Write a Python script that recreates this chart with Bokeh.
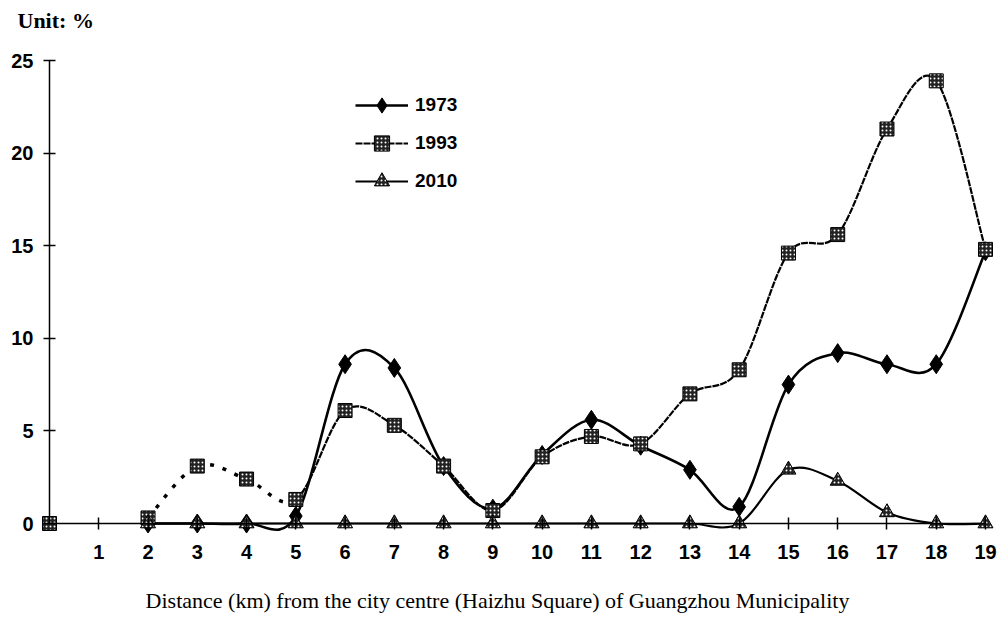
import numpy as np
from bokeh.plotting import figure
from bokeh.models import (Range1d, LinearAxis, FixedTicker, Legend, LegendItem,
                          Label, ColumnDataSource)
from bokeh.embed import file_html
from bokeh.resources import INLINE

# ---------------- data ----------------
distance = list(range(0, 20))
x_ticks = list(range(1, 20))
y_ticks = [0, 5, 10, 15, 20, 25]
share_1973 = [None, None, 0, 0, 0, 0.4, 8.6, 8.4, 3.1, 0.8, 3.7, 5.6, 4.2, 2.9, 0.9, 7.5, 9.2, 8.6, 8.6, 14.7]
share_1993 = [0, None, 0.3, 3.1, 2.4, 1.3, 6.1, 5.3, 3.1, 0.7, 3.6, 4.7, 4.3, 7.0, 8.3, 14.6, 15.6, 21.3, 23.9, 14.8]
share_2010 = [None, None, 0, 0, 0, 0, 0, 0, 0, 0, 0, 0, 0, 0, 0, 2.9, 2.3, 0.6, 0, 0]


def to_arr(v):
    return np.array([np.nan if a is None else a for a in v], dtype=float)


def smooth_segments(xs, ys, start):
    """Bezier control points (Catmull-Rom style) through the points from index `start`."""
    px = np.array(xs[start:], dtype=float)
    py = to_arr(ys[start:])
    n = len(px)
    seg = dict(x0=[], y0=[], x1=[], y1=[], cx0=[], cy0=[], cx1=[], cy1=[])
    for i in range(n - 1):
        im = max(i - 1, 0)
        ip = min(i + 2, n - 1)
        seg["x0"].append(px[i]); seg["y0"].append(py[i])
        seg["x1"].append(px[i + 1]); seg["y1"].append(py[i + 1])
        seg["cx0"].append(px[i] + (px[i + 1] - px[im]) / 6)
        seg["cy0"].append(py[i] + (py[i + 1] - py[im]) / 6)
        seg["cx1"].append(px[i + 1] - (px[ip] - px[i]) / 6)
        seg["cy1"].append(py[i + 1] - (py[ip] - py[i]) / 6)
    return seg


def subset(seg, a, b):
    return {k: v[a:b] for k, v in seg.items()}


# ---------------- layout (frame covers the whole canvas) ----------------
W, H = 997, 627
X0_PX, X19_PX = 49.0, 985.0      # pixel of x=0 and x=19
Y0_PX, Y25_PX = 523.0, 60.0      # pixel of y=0 and y=25
kx = (X19_PX - X0_PX) / 19.0
ky = (Y0_PX - Y25_PX) / 25.0
x_range = Range1d(-X0_PX / kx, 19 + (W - X19_PX) / kx)
y_range = Range1d(-(H - Y0_PX) / ky, 25 + Y25_PX / ky)

p = figure(width=W, height=H, output_backend="svg", toolbar_location=None,
           x_range=x_range, y_range=y_range,
           x_axis_type=None, y_axis_type=None,
           min_border=0, min_border_left=0, min_border_right=0,
           min_border_top=0, min_border_bottom=0)
p.outline_line_color = None
p.background_fill_color = "white"
p.border_fill_color = "white"

# axes placed at data zero
xaxis = LinearAxis(ticker=FixedTicker(ticks=x_ticks), fixed_location=0, bounds=(0, 19))
yaxis = LinearAxis(ticker=FixedTicker(ticks=y_ticks), fixed_location=0, bounds=(0, 25))
for ax in (xaxis, yaxis):
    ax.axis_line_color = "black"
    ax.axis_line_width = 1.5
    ax.major_tick_line_color = "black"
    ax.major_tick_line_width = 1.5
    ax.major_tick_in = 6
    ax.major_tick_out = 6
    ax.minor_tick_line_color = None
    ax.major_label_text_font = "Liberation Sans"
    ax.major_label_text_font_style = "bold"
    ax.major_label_text_font_size = "20px"
    ax.major_label_text_color = "black"
xaxis.major_label_standoff = 15
yaxis.major_label_standoff = 10
p.add_layout(xaxis, "below")
p.add_layout(yaxis, "left")

# smooth lines
seg73 = smooth_segments(distance, share_1973, 2)
seg93 = smooth_segments(distance, share_1993, 2)
seg10 = smooth_segments(distance, share_2010, 2)

b73 = p.bezier(source=ColumnDataSource(seg73), x0="x0", y0="y0", x1="x1", y1="y1",
               cx0="cx0", cy0="cy0", cx1="cx1", cy1="cy1", line_color="black", line_width=2.6)
b93a = p.bezier(source=ColumnDataSource(subset(seg93, 0, 3)), x0="x0", y0="y0", x1="x1", y1="y1",
                cx0="cx0", cy0="cy0", cx1="cx1", cy1="cy1", line_color="black", line_width=3.5,
                line_dash="4 9")
b93 = p.bezier(source=ColumnDataSource(subset(seg93, 3, len(seg93["x0"]))), x0="x0", y0="y0", x1="x1", y1="y1",
               cx0="cx0", cy0="cy0", cx1="cx1", cy1="cy1", line_color="black", line_width=2.2,
               line_dash="7 1")
b10 = p.bezier(source=ColumnDataSource(seg10), x0="x0", y0="y0", x1="x1", y1="y1",
               cx0="cx0", cy0="cy0", cx1="cx1", cy1="cy1", line_color="black", line_width=2.2)

# markers
s73 = p.scatter(distance, to_arr(share_1973), marker="diamond", size=19,
                fill_color="black", line_color="black")
s93 = p.scatter(distance, to_arr(share_1993), marker="square", size=14,
                fill_color="#222222", line_color="black", line_width=1,
                hatch_pattern="dot", hatch_color="white", hatch_scale=4, hatch_weight=1.2)
s10 = p.scatter(distance, to_arr(share_2010), marker="triangle", size=15,
                fill_color="#222222", line_color="black", line_width=1,
                hatch_pattern="dot", hatch_color="white", hatch_scale=4, hatch_weight=1.2)

legend = Legend(items=[LegendItem(label="1973", renderers=[b73, s73]),
                       LegendItem(label="1993", renderers=[b93, s93]),
                       LegendItem(label="2010", renderers=[b10, s10])],
                location=(355, H - 200), orientation="vertical",
                glyph_width=53, glyph_height=38, label_height=20, spacing=0,
                padding=0, margin=0, border_line_color=None, background_fill_alpha=0,
                label_text_font="Liberation Sans", label_text_font_style="bold",
                label_text_font_size="19px", label_text_color="black", label_standoff=7)
p.add_layout(legend)

p.add_layout(Label(x=17, y=H - 20, x_units="screen", y_units="screen", text="Unit: %",
                   text_align="left", text_baseline="middle", text_font="Liberation Serif",
                   text_font_style="bold", text_font_size="22px", text_color="black"))
p.add_layout(Label(x=497, y=H - 600, x_units="screen", y_units="screen",
                   text="Distance (km) from the city centre (Haizhu Square) of Guangzhou Municipality",
                   text_align="center", text_baseline="middle", text_font="Liberation Serif",
                   text_font_size="22px", text_color="black"))

open("out.html", "w").write(file_html(p, INLINE))
